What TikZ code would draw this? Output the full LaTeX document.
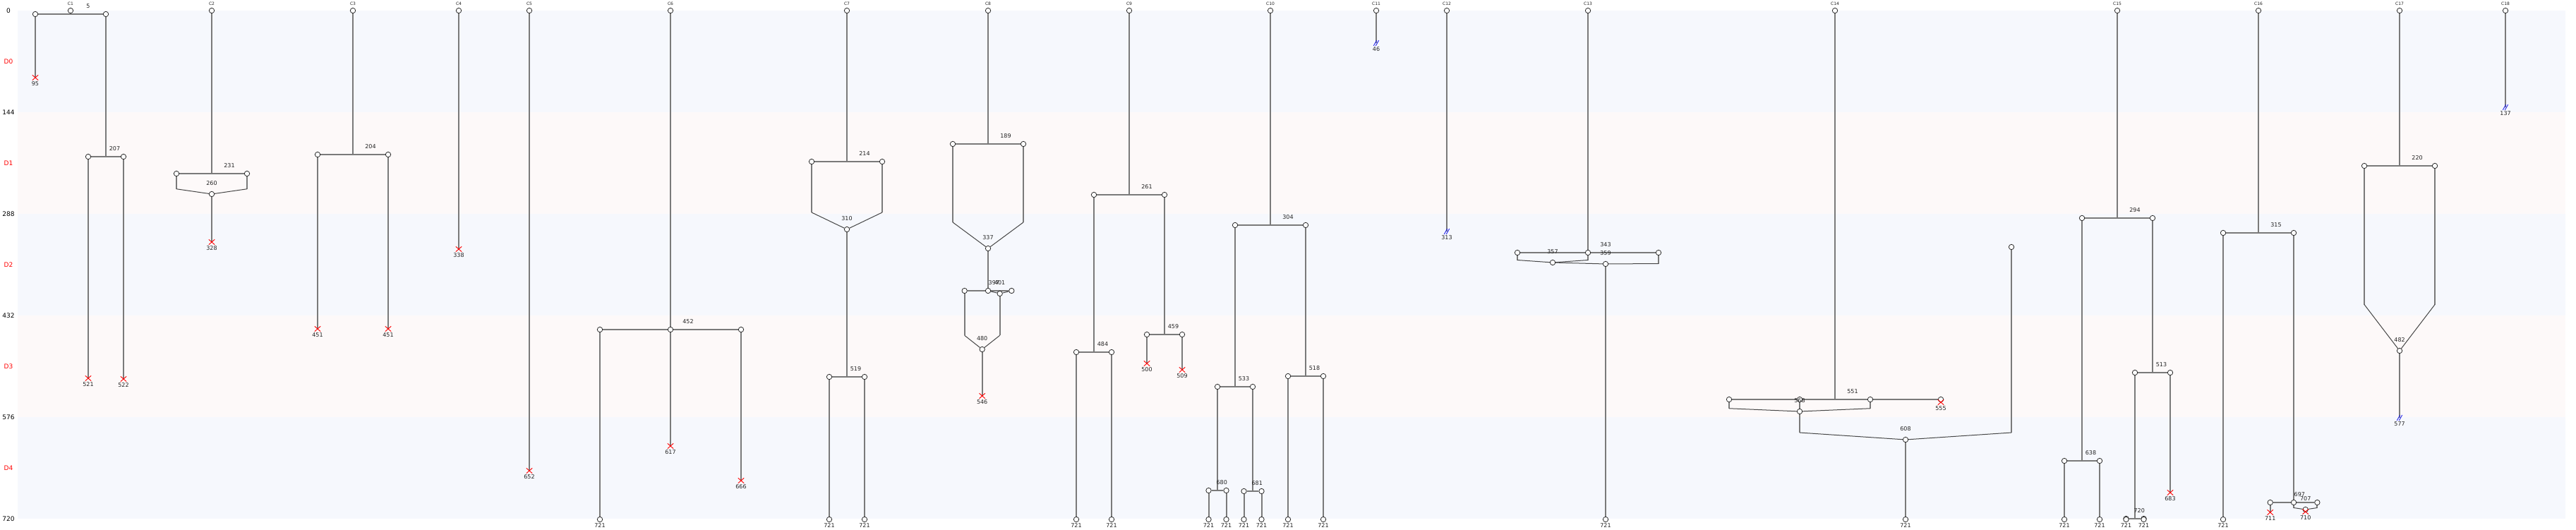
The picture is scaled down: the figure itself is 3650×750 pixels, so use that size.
\documentclass[tikz,border=0pt]{standalone}
\usepackage{fontspec}
\setmainfont{DejaVu Sans}
\usetikzlibrary{shapes.misc}
\definecolor{bandA}{RGB}{246,248,253}
\definecolor{bandB}{RGB}{253,249,249}
\definecolor{edgegray}{RGB}{122,122,122}
\definecolor{mergegray}{RGB}{70,70,70}
\definecolor{nodeline}{RGB}{40,40,40}
\definecolor{labtext}{RGB}{35,35,35}
\definecolor{markblue}{RGB}{30,30,235}
\pgfdeclarelayer{bg}
\pgfdeclarelayer{edges}
\pgfsetlayers{bg,edges,main}
\tikzset{
  cn/.style={circle, draw=nodeline, fill=white, line width=0.8pt, inner sep=0pt, minimum size=7.4pt},
  xm/.style={cross out, draw=red, line width=0.9pt, inner sep=0pt, minimum width=7.5pt, minimum height=6.5pt},
  ed/.style={draw=edgegray, line width=2pt},
  me/.style={draw=mergegray, line width=1pt},
  bluem/.style={draw=markblue, line width=0.9pt},
  lab/.style={font=\fontsize{8}{9}\selectfont, text=labtext, inner sep=0pt},
  clab/.style={font=\fontsize{6}{7}\selectfont, text=labtext, inner sep=0pt},
  axl/.style={font=\fontsize{9}{10}\selectfont, text=black, inner sep=0pt},
  dl/.style={font=\fontsize{9}{10}\selectfont, text=red, inner sep=0pt},
}
\newcommand\NT[3]{\node[cn] (#1) at (#2,0) {}; \node[clab] at (#2,-10) {#3};}
\newcommand\NC[3]{\node[cn] (#1) at (#2,#3) {};}
\newcommand\NX[3]{\node[xm] (#1) at (#2,#3) {}; \node[lab] at (#2,#3+8.5) {#3};}
\newcommand\NL[2]{\node[cn] (#1) at (#2,721) {}; \node[lab] at (#2,729.5) {721};}
\newcommand\NB[3]{\coordinate (#1) at (#2,#3);
  \draw[bluem] ([shift={(-3.7,3.8)}]#1) -- ++(4.3,-7.6);
  \draw[bluem] ([shift={(-0.7,3.8)}]#1) -- ++(4.3,-7.6);
  \node[lab] at (#2,#3+8.5) {#3};}
\newcommand\LB[3]{\node[lab] at (#1,#2) {#3};}
\begin{document}
\begin{tikzpicture}[x=1pt,y=-1pt]
\useasboundingbox (0,-15) rectangle (3650,735);
\begin{pgfonlayer}{bg}
\fill[white] (0,-15) rectangle (3650,735);
\fill[bandA] (25,0) rectangle (3635,144);
\fill[bandB] (25,144) rectangle (3635,288);
\fill[bandA] (25,288) rectangle (3635,432);
\fill[bandB] (25,432) rectangle (3635,576);
\fill[bandA] (25,576) rectangle (3635,720);
\end{pgfonlayer}
% axis
\foreach \v in {0,144,288,432,576,720} {\node[axl] at (12,\v) {\v};}
\node[dl] at (12,72) {D0};
\node[dl] at (12,216) {D1};
\node[dl] at (12,360) {D2};
\node[dl] at (12,504) {D3};
\node[dl] at (12,648) {D4};

% ---------- C1
\NT{c1}{100}{C1}
\NC{a5L}{50}{5} \NC{a5R}{150}{5} \coordinate (a5J) at (100,5); \LB{125}{-6.5}{5}
\NX{x95}{50}{95}
\coordinate (b207J) at (150,207); \NC{b207L}{125}{207} \NC{b207R}{175}{207} \LB{162.5}{195.5}{207}
\NX{x521}{125}{521} \NX{x522}{175}{522}
% ---------- C2
\NT{c2}{300}{C2}
\coordinate (j231) at (300,231); \NC{n231L}{250}{231} \NC{n231R}{350}{231} \LB{325}{219.5}{231}
\coordinate (d231L) at (250,252.75); \coordinate (d231R) at (350,252.75);
\NC{m260}{300}{260} \LB{300}{245}{260}
\NX{x328}{300}{328}
% ---------- C3
\NT{c3}{500}{C3}
\coordinate (j204) at (500,204); \NC{n204L}{450}{204} \NC{n204R}{550}{204} \LB{525}{192.5}{204}
\NX{x451a}{450}{451} \NX{x451b}{550}{451}
% ---------- C4, C5
\NT{c4}{650}{C4} \NX{x338}{650}{338}
\NT{c5}{750}{C5} \NX{x652}{750}{652}
% ---------- C6
\NT{c6}{950}{C6}
\NC{n452L}{850}{452} \NC{n452C}{950}{452} \NC{n452R}{1050}{452} \LB{975}{440.5}{452}
\NL{l6a}{850} \NX{x617}{950}{617} \NX{x666}{1050}{666}
% ---------- C7
\NT{c7}{1200}{C7}
\coordinate (j214) at (1200,214); \NC{n214L}{1150}{214} \NC{n214R}{1250}{214} \LB{1225}{202.5}{214}
\coordinate (d214L) at (1150,286); \coordinate (d214R) at (1250,286);
\NC{m310}{1200}{310} \LB{1200}{295}{310}
\coordinate (j519) at (1200,519); \NC{n519L}{1175}{519} \NC{n519R}{1225}{519} \LB{1212.5}{507.5}{519}
\NL{l7a}{1175} \NL{l7b}{1225}
% ---------- C8
\NT{c8}{1400}{C8}
\coordinate (j189) at (1400,189); \NC{n189L}{1350}{189} \NC{n189R}{1450}{189} \LB{1425}{177.5}{189}
\coordinate (d189L) at (1350,300); \coordinate (d189R) at (1450,300);
\NC{m337}{1400}{337} \LB{1400}{322}{337}
\NC{n397L}{1366.67}{397} \NC{n397C}{1400}{397} \NC{n397R}{1433.33}{397}
\NC{m401}{1416.67}{401}
\LB{1408.33}{385.5}{397} \LB{1416.67}{386}{401}
\coordinate (d480L) at (1366.67,460.25); \coordinate (d480R) at (1416.67,460.25);
\NC{m480}{1391.67}{480} \LB{1391.67}{465}{480}
\NX{x546}{1391.67}{546}
% ---------- C9
\NT{c9}{1600}{C9}
\coordinate (j261) at (1600,261); \NC{n261L}{1550}{261} \NC{n261R}{1650}{261} \LB{1625}{249.5}{261}
\coordinate (j484) at (1550,484); \NC{n484L}{1525}{484} \NC{n484R}{1575}{484} \LB{1562.5}{472.5}{484}
\NL{l9a}{1525} \NL{l9b}{1575}
\coordinate (j459) at (1650,459); \NC{n459L}{1625}{459} \NC{n459R}{1675}{459} \LB{1662.5}{447.5}{459}
\NX{x500}{1625}{500} \NX{x509}{1675}{509}
% ---------- C10
\NT{c10}{1800}{C10}
\coordinate (j304) at (1800,304); \NC{n304L}{1750}{304} \NC{n304R}{1850}{304} \LB{1825}{292.5}{304}
\coordinate (j533) at (1750,533); \NC{n533L}{1725}{533} \NC{n533R}{1775}{533} \LB{1762.5}{521.5}{533}
\coordinate (j680) at (1725,680); \NC{n680L}{1712.5}{680} \NC{n680R}{1737.5}{680} \LB{1731.25}{668.5}{680}
\NL{l10a}{1712.5} \NL{l10b}{1737.5}
\coordinate (j681) at (1775,681); \NC{n681L}{1762.5}{681} \NC{n681R}{1787.5}{681} \LB{1781.25}{669.5}{681}
\NL{l10c}{1762.5} \NL{l10d}{1787.5}
\coordinate (j518) at (1850,518); \NC{n518L}{1825}{518} \NC{n518R}{1875}{518} \LB{1862.5}{506.5}{518}
\NL{l10e}{1825} \NL{l10f}{1875}
% ---------- C11, C12
\NT{c11}{1950}{C11} \NB{b46}{1950}{46}
\NT{c12}{2050}{C12} \NB{b313}{2050}{313}
% ---------- C13
\NT{c13}{2250}{C13}
\NC{n343L}{2150}{343} \NC{n343C}{2250}{343} \NC{n343R}{2350}{343} \LB{2275}{331.5}{343}
\coordinate (d357L) at (2150,353.5); \coordinate (d357R) at (2250,353.5);
\NC{m357}{2200}{357} \LB{2200}{342}{357}
\coordinate (d359R) at (2350,358.5);
\NC{m359}{2275}{359} \LB{2275}{344}{359}
\NL{l13}{2275}
% ---------- C14
\NT{c14}{2600}{C14}
\coordinate (j551) at (2600,551);
\NC{n551a}{2450}{551} \NC{n551b}{2550}{551} \NC{n551c}{2650}{551} \NC{n551d}{2750}{551} \LB{2625}{539.5}{551}
\NX{x555}{2750}{555}
\coordinate (d568L) at (2450,563.75); \coordinate (d568R) at (2650,563.75);
\NC{m568}{2550}{568} \LB{2550}{553}{568}
\NC{p335}{2850}{335}
\coordinate (d608L) at (2550,598); \coordinate (d608R) at (2850,598);
\NC{m608}{2700}{608} \LB{2700}{593}{608}
\NL{l14}{2700}
% ---------- C15
\NT{c15}{3000}{C15}
\coordinate (j294) at (3000,294); \NC{n294L}{2950}{294} \NC{n294R}{3050}{294} \LB{3025}{282.5}{294}
\coordinate (j638) at (2950,638); \NC{n638L}{2925}{638} \NC{n638R}{2975}{638} \LB{2962.5}{626.5}{638}
\NL{l15a}{2925} \NL{l15b}{2975}
\coordinate (j513) at (3050,513); \NC{n513L}{3025}{513} \NC{n513R}{3075}{513} \LB{3062.5}{501.5}{513}
\coordinate (j720) at (3025,720); \NC{n720L}{3012.5}{720} \NC{n720R}{3037.5}{720} \LB{3031.25}{708.5}{720}
\NL{l15c}{3012.5} \NL{l15d}{3037.5}
\NX{x683}{3075}{683}
% ---------- C16
\NT{c16}{3200}{C16}
\coordinate (j315) at (3200,315); \NC{n315L}{3150}{315} \NC{n315R}{3250}{315} \LB{3225}{303.5}{315}
\NL{l16}{3150}
\NC{n697L}{3216.67}{697} \NC{n697C}{3250}{697} \NC{n697R}{3283.33}{697} \LB{3258.33}{685.5}{697}
\NX{x711}{3216.67}{711}
\coordinate (d707L) at (3250,704.5); \coordinate (d707R) at (3283.33,704.5);
\NC{m707}{3266.67}{707} \LB{3266.67}{692}{707}
\NX{x710}{3266.67}{710}
% ---------- C17
\NT{c17}{3400}{C17}
\coordinate (j220) at (3400,220); \NC{n220L}{3350}{220} \NC{n220R}{3450}{220} \LB{3425}{208.5}{220}
\coordinate (d220L) at (3350,416.5); \coordinate (d220R) at (3450,416.5);
\NC{m482}{3400}{482} \LB{3400}{467}{482}
\NB{b577}{3400}{577}
% ---------- C18
\NT{c18}{3550}{C18} \NB{b137}{3550}{137}

% ================= connectors
\begin{pgfonlayer}{edges}
% C1
\draw[ed] (c1) -- (a5J); \draw[ed] (a5L) -- (a5R);
\draw[ed] (a5L) -- (x95.center);
\draw[ed] (a5R) -- (b207J); \draw[ed] (b207L) -- (b207R);
\draw[ed] (b207L) -- (x521.center); \draw[ed] (b207R) -- (x522.center);
% C2
\draw[ed] (c2) -- (j231); \draw[ed] (n231L) -- (n231R);
\draw[ed] (n231L) -- (d231L); \draw[me] (d231L) -- (m260);
\draw[ed] (n231R) -- (d231R); \draw[me] (d231R) -- (m260);
\draw[ed] (m260) -- (x328.center);
% C3
\draw[ed] (c3) -- (j204); \draw[ed] (n204L) -- (n204R);
\draw[ed] (n204L) -- (x451a.center); \draw[ed] (n204R) -- (x451b.center);
% C4 C5
\draw[ed] (c4) -- (x338.center);
\draw[ed] (c5) -- (x652.center);
% C6
\draw[ed] (c6) -- (n452C); \draw[ed] (n452L) -- (n452C) -- (n452R);
\draw[ed] (n452L) -- (l6a); \draw[ed] (n452C) -- (x617.center); \draw[ed] (n452R) -- (x666.center);
% C7
\draw[ed] (c7) -- (j214); \draw[ed] (n214L) -- (n214R);
\draw[ed] (n214L) -- (d214L); \draw[me] (d214L) -- (m310);
\draw[ed] (n214R) -- (d214R); \draw[me] (d214R) -- (m310);
\draw[ed] (m310) -- (j519); \draw[ed] (n519L) -- (n519R);
\draw[ed] (n519L) -- (l7a); \draw[ed] (n519R) -- (l7b);
% C8
\draw[ed] (c8) -- (j189); \draw[ed] (n189L) -- (n189R);
\draw[ed] (n189L) -- (d189L); \draw[me] (d189L) -- (m337);
\draw[ed] (n189R) -- (d189R); \draw[me] (d189R) -- (m337);
\draw[ed] (m337) -- (n397C); \draw[ed] (n397L) -- (n397C) -- (n397R);
\draw[me] (n397C) -- (m401); \draw[me] (n397R) -- (m401);
\draw[ed] (n397L) -- (d480L); \draw[me] (d480L) -- (m480);
\draw[ed] (m401) -- (d480R); \draw[me] (d480R) -- (m480);
\draw[ed] (m480) -- (x546.center);
% C9
\draw[ed] (c9) -- (j261); \draw[ed] (n261L) -- (n261R);
\draw[ed] (n261L) -- (j484); \draw[ed] (n484L) -- (n484R);
\draw[ed] (n484L) -- (l9a); \draw[ed] (n484R) -- (l9b);
\draw[ed] (n261R) -- (j459); \draw[ed] (n459L) -- (n459R);
\draw[ed] (n459L) -- (x500.center); \draw[ed] (n459R) -- (x509.center);
% C10
\draw[ed] (c10) -- (j304); \draw[ed] (n304L) -- (n304R);
\draw[ed] (n304L) -- (j533); \draw[ed] (n533L) -- (n533R);
\draw[ed] (n533L) -- (j680); \draw[ed] (n680L) -- (n680R);
\draw[ed] (n680L) -- (l10a); \draw[ed] (n680R) -- (l10b);
\draw[ed] (n533R) -- (j681); \draw[ed] (n681L) -- (n681R);
\draw[ed] (n681L) -- (l10c); \draw[ed] (n681R) -- (l10d);
\draw[ed] (n304R) -- (j518); \draw[ed] (n518L) -- (n518R);
\draw[ed] (n518L) -- (l10e); \draw[ed] (n518R) -- (l10f);
% C11 C12
\draw[ed] (c11) -- (b46); \draw[ed] (c12) -- (b313);
% C13
\draw[ed] (c13) -- (n343C); \draw[ed] (n343L) -- (n343C) -- (n343R);
\draw[ed] (n343L) -- (d357L); \draw[me] (d357L) -- (m357);
\draw[ed] (n343C) -- (d357R); \draw[me] (d357R) -- (m357);
\draw[me] (m357) -- (m359);
\draw[ed] (n343R) -- (d359R); \draw[me] (d359R) -- (m359);
\draw[ed] (m359) -- (l13);
% C14
\draw[ed] (c14) -- (j551);
\draw[ed] (n551a) -- (n551b) -- (n551c) -- (n551d);
\draw[ed] (n551a) -- (d568L); \draw[me] (d568L) -- (m568);
\draw[ed] (n551c) -- (d568R); \draw[me] (d568R) -- (m568);
\draw[ed] (n551b) -- (m568);
\draw[ed] (m568) -- (d608L); \draw[me] (d608L) -- (m608);
\draw[ed] (p335) -- (d608R); \draw[me] (d608R) -- (m608);
\draw[ed] (m608) -- (l14);
% C15
\draw[ed] (c15) -- (j294); \draw[ed] (n294L) -- (n294R);
\draw[ed] (n294L) -- (j638); \draw[ed] (n638L) -- (n638R);
\draw[ed] (n638L) -- (l15a); \draw[ed] (n638R) -- (l15b);
\draw[ed] (n294R) -- (j513); \draw[ed] (n513L) -- (n513R);
\draw[ed] (n513L) -- (j720); \draw[ed] (n720L) -- (n720R);
\draw[ed] (n513R) -- (x683.center);
% C16
\draw[ed] (c16) -- (j315); \draw[ed] (n315L) -- (n315R);
\draw[ed] (n315L) -- (l16);
\draw[ed] (n315R) -- (n697C); \draw[ed] (n697L) -- (n697C) -- (n697R);
\draw[ed] (n697L) -- (x711.center);
\draw[ed] (n697C) -- (d707L); \draw[me] (d707L) -- (m707);
\draw[ed] (n697R) -- (d707R); \draw[me] (d707R) -- (m707);
% C17
\draw[ed] (c17) -- (j220); \draw[ed] (n220L) -- (n220R);
\draw[ed] (n220L) -- (d220L); \draw[me] (d220L) -- (m482);
\draw[ed] (n220R) -- (d220R); \draw[me] (d220R) -- (m482);
\draw[ed] (m482) -- (b577);
% C18
\draw[ed] (c18) -- (b137);
\end{pgfonlayer}
\end{tikzpicture}
\end{document}
